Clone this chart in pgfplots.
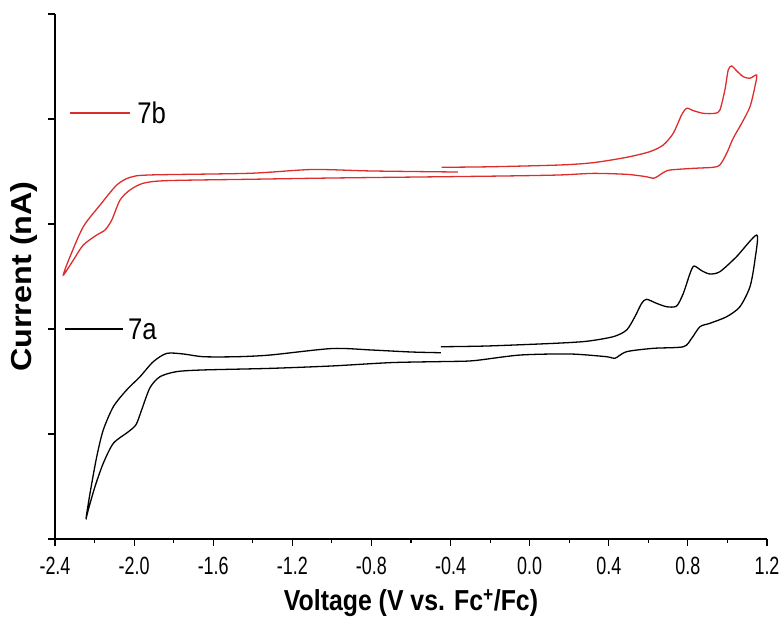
\documentclass[border=0pt]{standalone}
\usepackage{fontspec}
\setmainfont{Liberation Sans}
\newfontfamily\ticksfont[FakeStretch=0.72]{Liberation Sans}
\newfontfamily\labfont[FakeStretch=0.86, BoldFeatures={FakeStretch=0.86}]{Liberation Sans}
\newfontfamily\ylabfont[FakeStretch=1.12, BoldFeatures={FakeStretch=1.12}]{Liberation Sans}
\usepackage{pgfplots}
\pgfplotsset{compat=1.18}
\definecolor{cvred}{RGB}{220,45,45}

\pgfplotstableread{
v i
-0.445 3.540
-0.200 3.545
0.153 3.562
0.321 3.584
0.490 3.635
0.608 3.689
0.675 3.752
0.726 3.864
0.768 4.038
0.794 4.102
0.827 4.080
0.878 4.054
0.937 4.054
0.962 4.086
0.987 4.276
1.004 4.467
1.021 4.505
1.046 4.460
1.080 4.403
1.114 4.388
1.148 4.419
1.139 4.308
1.114 4.117
1.072 3.959
1.029 3.816
0.996 3.673
0.962 3.562
0.928 3.540
0.827 3.530
0.709 3.514
0.675 3.489
0.650 3.457
0.625 3.435
0.591 3.450
0.490 3.473
0.321 3.482
0.153 3.467
-0.100 3.458
-0.450 3.450
-1.000 3.438
-1.414 3.426
-1.835 3.413
-1.954 3.388
-2.021 3.324
-2.071 3.229
-2.113 3.038
-2.147 2.943
-2.189 2.895
-2.257 2.800
-2.307 2.657
-2.358 2.514
-2.324 2.689
-2.257 2.974
-2.172 3.181
-2.088 3.371
-2.021 3.444
-1.920 3.467
-1.414 3.483
-1.100 3.519
-0.800 3.505
-0.363 3.495
}\sevenb

\pgfplotstableread{
v i
-0.449 1.831
-0.218 1.838
0.119 1.863
0.288 1.883
0.423 1.927
0.490 1.990
0.532 2.117
0.566 2.244
0.591 2.283
0.642 2.244
0.693 2.212
0.743 2.219
0.777 2.340
0.811 2.530
0.831 2.600
0.870 2.555
0.911 2.524
0.962 2.546
1.046 2.689
1.148 2.895
1.139 2.657
1.114 2.403
1.063 2.212
0.996 2.117
0.911 2.054
0.861 2.022
0.819 1.911
0.777 1.831
0.625 1.816
0.490 1.784
0.431 1.721
0.389 1.736
0.204 1.762
-0.049 1.752
-0.285 1.698
-0.436 1.690
-0.700 1.680
-1.000 1.648
-1.313 1.625
-1.650 1.610
-1.785 1.594
-1.869 1.546
-1.920 1.440
-1.962 1.229
-1.990 1.090
-2.030 1.020
-2.105 0.911
-2.156 0.721
-2.198 0.498
-2.232 0.276
-2.243 0.197
-2.223 0.435
-2.189 0.784
-2.156 1.038
-2.105 1.260
-2.038 1.419
-1.970 1.546
-1.903 1.689
-1.835 1.768
-1.751 1.762
-1.650 1.736
-1.481 1.736
-1.313 1.752
-1.000 1.814
-0.800 1.800
-0.600 1.781
-0.449 1.774
}\sevena

\begin{document}
\begin{tikzpicture}
\useasboundingbox (-55bp,-79bp) rectangle (728bp,539bp);
\begin{axis}[
    scale only axis,
    width = 712bp,
    height = 525bp,
    xmin = -2.4, xmax = 1.2,
    ymin = 0, ymax = 5,
    axis x line* = bottom,
    axis y line* = left,
    axis line style = {line width = 1.4bp, black},
    xtick = {-2.4,-2.0,-1.6,-1.2,-0.8,-0.4,0,0.4,0.8,1.2},
    xticklabels = {-2.4,-2.0,-1.6,-1.2,-0.8,-0.4,0.0,0.4,0.8,1.2},
    minor x tick num = 1,
    ytick = {0,1,2,3,4,5},
    yticklabel = {\relax},
    tick align = outside,
    major tick length = 7bp,
    minor tick length = 4bp,
    tick style = {line width = 1.2bp, black},
    xticklabel style = {font = \ticksfont\fontsize{25}{27}\selectfont, yshift = -8bp},
    xlabel = {Voltage (V vs. Fc\textsuperscript{+}/Fc)},
    ylabel = {Current (nA)},
    xlabel style = {font = \labfont\bfseries\fontsize{29}{31}\selectfont,
        at = {(axis description cs:0.5,0)}, anchor = center, yshift = -64bp},
    ylabel style = {font = \ylabfont\bfseries\fontsize{29}{31}\selectfont,
        at = {(axis description cs:0,0.5)}, anchor = center, yshift = 31bp},
    clip = false
]
    \addplot[cvred, line width = 1.3bp, smooth, tension = 0.45] table[x = v, y = i] {\sevenb};
    \addplot[black, line width = 1.3bp, smooth, tension = 0.45] table[x = v, y = i] {\sevena};

    % legend keys, placed by hand as in the original
    \draw[cvred, line width = 1.3bp] (axis cs:-2.324,4.057) -- (axis cs:-2.021,4.057);
    \node[anchor = west, inner sep = 0pt, font = \labfont\fontsize{30}{32}\selectfont]
        at (axis cs:-1.985,4.057) {7b};
    \draw[black, line width = 1.3bp] (axis cs:-2.349,2.0) -- (axis cs:-2.056,2.0);
    \node[anchor = west, inner sep = 0pt, font = \labfont\fontsize{30}{32}\selectfont]
        at (axis cs:-2.031,2.0) {7a};
\end{axis}
\end{tikzpicture}
\end{document}
